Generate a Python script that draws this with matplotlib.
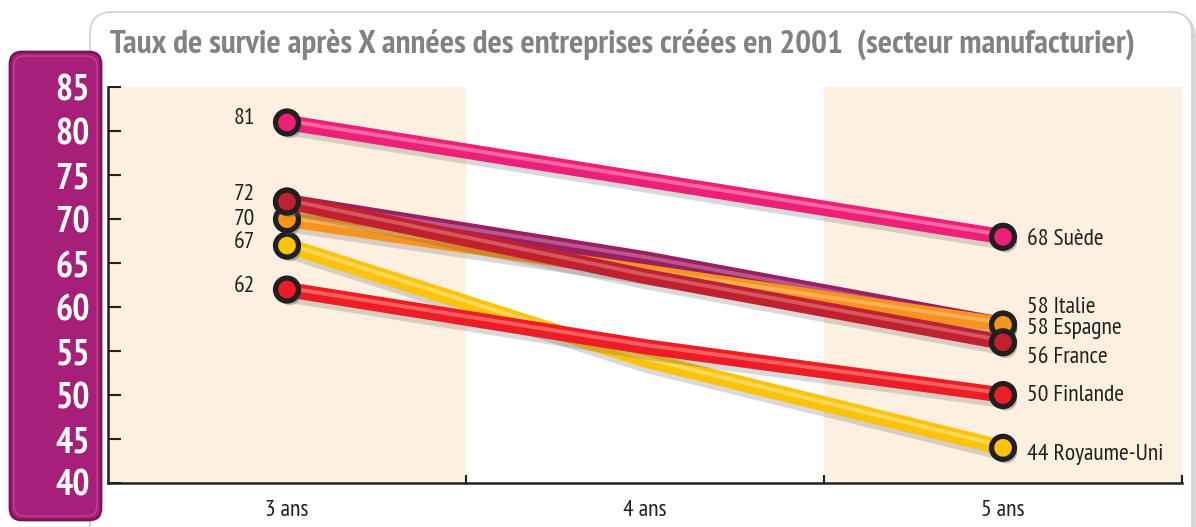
import matplotlib
matplotlib.use('Agg')
import matplotlib.pyplot as plt
import matplotlib.patheffects as pe
from matplotlib.patches import FancyBboxPatch

# data
annees = ['3 ans', '4 ans', '5 ans']
x_pos = [3, 4, 5]
pays = ['Royaume-Uni', 'Finlande', 'Italie', 'Espagne', 'France', 'Suède']
royaume_uni = [67, 54, 44]
finlande = [62, 55.5, 50]
italie = [72, 65.5, 58]
espagne = [70, 64, 58]
france = [72, 63.5, 56]
suede = [81, 74.5, 68]
series = [royaume_uni, finlande, italie, espagne, france, suede]

couleurs = ['#fcc30b', '#ee1c25', '#9b1f62', '#f7931e', '#c1202e', '#ec2079']
clairs = ['#fde27f', '#f67d78', '#c5709a', '#fbbd70', '#de7076', '#f585b3']
# label offsets in points (left label, right label); None = no left label
dy_gauche = [2, 2.5, None, 0, 5, 3]
dy_droite = [-4.5, 0, 12.5, -2.5, -11, -2]

plt.rcParams['font.family'] = ['PT Sans Narrow', 'Roboto Condensed', 'Liberation Sans Narrow', 'DejaVu Sans']

W, H = 1196, 527
fig = plt.figure(figsize=(W / 100, H / 100), dpi=100)

def box(x0, y0, x1, y1, r, **kw):
    # pixel box (y from top) drawn in inch coordinates so corners stay round
    return FancyBboxPatch((x0 / 100, (H - y1) / 100), (x1 - x0) / 100, (y1 - y0) / 100,
                          boxstyle=f"round,pad=0,rounding_size={r / 100}",
                          transform=fig.dpi_scale_trans, **kw)

# white frame with soft shadow
fig.add_artist(box(93, 15, 1196, 560, 22, facecolor='#d9d9d9', edgecolor='none', zorder=-3))
fig.add_artist(box(90, 12, 1192, 560, 22, facecolor='white', edgecolor='#d0d0d0', lw=1.2, zorder=-2))
# magenta y-axis panel
fig.add_artist(box(10, 52, 101, 520, 12, facecolor='#a6207a', edgecolor='#7b1458', lw=2, zorder=-1))
fig.add_artist(box(14, 56, 97, 516, 10, facecolor='none', edgecolor='#c44d97', lw=0.8, zorder=-1))

fig.text(110 / W, 1 - 44 / H,
         'Taux de survie après X années des entreprises créées en 2001  (secteur manufacturier)',
         fontsize=24, fontweight='bold', color='#808285', ha='left', va='center')

ax = fig.add_axes([108 / W, 1 - 483 / H, (1182 - 108) / W, (483 - 87.3) / H])
ax.patch.set_alpha(0)
ax.set_xlim(2.5, 5.5)
ax.set_ylim(40, 85)

ax.axvspan(2.5, 3.5, color='#fdf0e0', zorder=0, lw=0)
ax.axvspan(4.5, 5.5, color='#fdf0e0', zorder=0, lw=0)

for i, (nom, vals) in enumerate(zip(pays, series)):
    z = 3 + i
    ax.plot(x_pos, vals, color=couleurs[i], lw=11, solid_capstyle='butt', zorder=z,
            path_effects=[pe.SimpleLineShadow(offset=(1.5, -4), shadow_color='#555555', alpha=0.22),
                          pe.Normal(),
                          pe.Stroke(offset=(0, 1.3), linewidth=2.8, foreground=clairs[i], alpha=0.7)])
    ax.plot([x_pos[0], x_pos[-1]], [vals[0], vals[-1]], ls='none', marker='o', ms=16.5,
            markerfacecolor=couleurs[i], markeredgecolor='#231f20', markeredgewidth=3.8, zorder=z + 0.5,
            path_effects=[pe.SimplePatchShadow(offset=(2, -3), shadow_rgbFace='#555555', alpha=0.35),
                          pe.Normal()])
    if dy_gauche[i] is not None:
        ax.annotate(f'{vals[0]:g}', (x_pos[0], vals[0]), xytext=(-23, dy_gauche[i]),
                    textcoords='offset points', ha='right', va='center', fontsize=17,
                    color='#231f20', annotation_clip=False, zorder=20)
    ax.annotate(f'{vals[-1]:g} {nom}', (x_pos[-1], vals[-1]), xytext=(17, dy_droite[i]),
                textcoords='offset points', ha='left', va='center', fontsize=17,
                color='#231f20', annotation_clip=False, zorder=20)

for s in ['top', 'right']:
    ax.spines[s].set_visible(False)
for s in ['left', 'bottom']:
    ax.spines[s].set_linewidth(1.8)
    ax.spines[s].set_color('#231f20')

ax.set_yticks(range(40, 90, 5))
ax.tick_params(axis='y', direction='in', length=9, width=1.5, pad=13,
               labelsize=26, labelcolor='white', color='#231f20')
for t in ax.get_yticklabels():
    t.set_fontweight('bold')

ax.set_xticks(x_pos)
ax.set_xticklabels(annees)
ax.set_xticks([3.5, 4.5, 5.5], minor=True)
ax.tick_params(axis='x', which='major', length=0, pad=12, labelsize=17, labelcolor='#231f20')
ax.tick_params(axis='x', which='minor', direction='in', length=6, width=1.5, color='#231f20')

fig.savefig('out.png', dpi=100)
